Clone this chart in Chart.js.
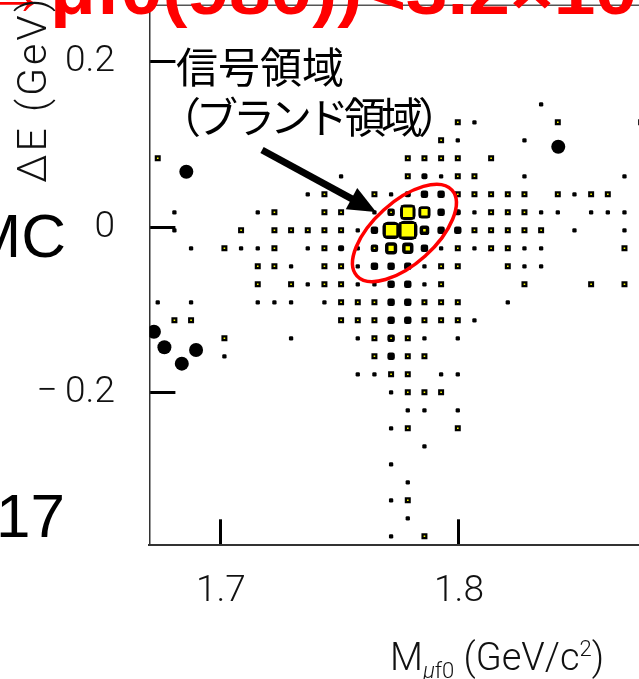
<!DOCTYPE html>
<html>
<head>
<meta charset="utf-8">
<script src="https://cdn.jsdelivr.net/npm/chart.js@4.4.0/dist/chart.umd.min.js"></script>
<style>
  html, body { margin: 0; padding: 0; background: #fff; overflow: hidden; }
  #wrap { position: relative; width: 639px; height: 679px; overflow: hidden; }
  #wrap canvas, #titleSvg { position: absolute; left: 0; top: 0; }
  .txt { position: absolute; white-space: nowrap; line-height: 1; }
  .side { font: 62px 'Liberation Sans', sans-serif; color: #000; text-align: right; width: 300px; }
  #mc { left: -234px; top: 200px; }
  #n17 { left: -235px; top: 480px; }
  .jp { font-family: 'Noto Sans CJK JP', sans-serif; color: #000; }
  #sig1 { left: 176px; top: 44px; font-size: 42px; }
  #sig2 { left: 159px; top: 94px; font-size: 42px; letter-spacing: -5px; }
  .axt { font-family: 'Roboto', sans-serif; font-weight: 300; color: #111; }
  #ytitle { left: 12px; top: 183px; font-size: 41px; letter-spacing: 3px; transform-origin: 0 0; transform: rotate(-90deg); }
  #xtitle { left: 390px; top: 638px; font-size: 38px; }
  #xtitle .sub { font-size: 22px; vertical-align: -8px; }
  #xtitle sup { font-size: 22px; vertical-align: 14px; }
</style>
</head>
<body>
<div id="wrap">
  <canvas id="boxChart" width="639" height="679"></canvas>
  <svg id="titleSvg" width="639" height="40">
    <g font-family="Liberation Sans, sans-serif" font-weight="bold" font-size="66" fill="#f00">
      <text x="48" y="14" text-anchor="end">Br(τ→</text>
      <text x="50" y="14" textLength="587" lengthAdjust="spacingAndGlyphs">μf0(980))&lt;3.2×10</text>
    </g>
  </svg>
  <div class="txt side" id="mc">MC</div>
  <div class="txt side" id="n17">17</div>
  <div class="txt jp" id="sig1">信号領域</div>
  <div class="txt jp" id="sig2">（ブランド領域）</div>
  <div class="txt axt" id="ytitle">ΔE (GeV)</div>
  <div class="txt axt" id="xtitle">M<span class="sub"><i>μ</i>f0</span> (GeV/c<sup>2</sup>)</div>
</div>
<script>
// binning of the box plot
const massRange = [1.67, 1.88];
const deltaERange = [-0.384, 0.268];
const nBinsMass = 30;
const nBinsDeltaE = 30;
const massAxisMax = 1.8756;
const massTicks = [1.7, 1.8];
const deltaETicks = [0.2, 0, -0.2];

// bin contents, top ΔE row first, one base-36 digit per mass bin ('.' = empty)
const bkgRows = [
  '..............................',
  '..............................',
  '..............................',
  '..............................',
  '..............................',
  '.......................1......',
  '...................1..........',
  '..................1...1.......',
  '..............................',
  '...........1....21....1.....1.',
  '.........1....1233.......1....',
  '.1....1......13d8321...11.111.',
  '.1..........13gk533......1..1.',
  '..1..11..1.2138731.1..11......',
  '........1...13331.....11......',
  '.........1..11331.............',
  '1.1...111.1...33.....1........',
  '..............33...1..........',
  '........1...1.3.1.1...........',
  '....1.........3...............',
  '............11...11...........',
  '..............1...............',
  '...............11.1...........',
  '..............1...............',
  '................1.............',
  '..............1...............',
  '...............1..............',
  '..............1...............',
  '...............1..............',
  '..............1...............'
];
const sigRows = [
  '..............................',
  '..............................',
  '..............................',
  '..............................',
  '..............................',
  '..............................',
  '..................1.....1....1',
  '.................1............',
  '1..............1111.1.........',
  '...............1..11..........',
  '..........1..1....11111.1.11..',
  '.......1..11..1la...111.......',
  '.....1.11111..pz2..11111......',
  '....1..1..1..175..1.11......1.',
  '......11..11.....11..1........',
  '......1.1.11.....1....1...1.1.',
  '...........111..111...........',
  '.11........111..111...........',
  '....1........111..............',
  '.............1.11.............',
  '..............11..............',
  '...............111............',
  '..............................',
  '...............1..1...........',
  '..............................',
  '..............................',
  '..............................',
  '...............1..............',
  '..............................',
  '................1.............'
];

// candidate events
const eventMass = [1.6855, 1.8417, 1.6719, 1.6763, 1.6836, 1.6896];
const eventDeltaE = [0.0671, 0.0973, -0.1261, -0.1449, -0.1647, -0.1482];

// signal region ellipse centre and the arrow pointing at it
const signalCentre = [1.7771, -0.0069];
const arrowFrom = [1.7173, 0.0933];
const arrowTo = [1.7652, 0.0184];

function binPoints(rows) {
  const bw = (massRange[1] - massRange[0]) / nBinsMass;
  const bh = (deltaERange[1] - deltaERange[0]) / nBinsDeltaE;
  const pts = [];
  rows.forEach((row, r) => {
    [...row].forEach((ch, c) => {
      if (ch === '.') return;
      pts.push({
        x: massRange[0] + (c + 0.5) * bw,
        y: deltaERange[1] - (r + 0.5) * bh,
        n: parseInt(ch, 36)
      });
    });
  });
  return pts;
}

const events = eventMass.map((m, i) => ({ x: m, y: eventDeltaE[i] }));

const tickFont = { family: 'Roboto', size: 37, weight: '300' };
const fmt = v => (v < 0 ? '\u2212\u2009' + Math.abs(v) : String(v));
const sigBorder = 2.2;

function noPadding(s) {
  s.paddingTop = 0;
  s.paddingBottom = 0;
  s.paddingLeft = 0;
  s.paddingRight = 0;
}

// top edge of the frame
const frameTop = {
  id: 'frameTop',
  afterDraw(chart) {
    const { ctx, chartArea: a } = chart;
    ctx.save();
    ctx.strokeStyle = '#555';
    ctx.lineWidth = 1.5;
    ctx.beginPath();
    ctx.moveTo(a.left, a.top);
    ctx.lineTo(a.right, a.top);
    ctx.stroke();
    ctx.restore();
  }
};

// red ellipse round the signal box and the black arrow
const signalMarks = {
  id: 'signalMarks',
  afterDatasetsDraw(chart) {
    const { ctx, scales: { x, y } } = chart;
    ctx.save();
    ctx.strokeStyle = '#ff0000';
    ctx.lineWidth = 3.5;
    ctx.beginPath();
    ctx.ellipse(x.getPixelForValue(signalCentre[0]), y.getPixelForValue(signalCentre[1]),
      64, 31, -42 * Math.PI / 180, 0, 2 * Math.PI);
    ctx.stroke();

    const x0 = x.getPixelForValue(arrowFrom[0]), y0 = y.getPixelForValue(arrowFrom[1]);
    const x1 = x.getPixelForValue(arrowTo[0]), y1 = y.getPixelForValue(arrowTo[1]);
    const ang = Math.atan2(y1 - y0, x1 - x0);
    const headLen = 28, headHalf = 12;
    const bx = x1 - headLen * Math.cos(ang), by = y1 - headLen * Math.sin(ang);
    ctx.strokeStyle = '#000';
    ctx.fillStyle = '#000';
    ctx.lineWidth = 7;
    ctx.beginPath();
    ctx.moveTo(x0, y0);
    ctx.lineTo(bx + 2 * Math.cos(ang), by + 2 * Math.sin(ang));
    ctx.stroke();
    ctx.beginPath();
    ctx.moveTo(x1, y1);
    ctx.lineTo(bx + headHalf * Math.sin(ang), by - headHalf * Math.cos(ang));
    ctx.lineTo(bx - headHalf * Math.sin(ang), by + headHalf * Math.cos(ang));
    ctx.closePath();
    ctx.fill();
    ctx.restore();
  }
};

const ctx = document.getElementById('boxChart').getContext('2d');
const boxChart = new Chart(ctx, {
  type: 'scatter',
  data: {
    datasets: [
      {
        label: 'data',
        data: events,
        pointStyle: 'circle',
        pointRadius: 7,
        backgroundColor: '#000',
        borderWidth: 0
      },
      {
        label: 'signal MC',
        data: binPoints(sigRows),
        pointStyle: 'rect',
        pointRadius: c => (2.2 * Math.sqrt(c.raw.n) - 0.6 + sigBorder) / Math.SQRT2,
        backgroundColor: '#ffff00',
        borderColor: '#000',
        borderWidth: sigBorder
      },
      {
        label: 'background MC',
        data: binPoints(bkgRows),
        pointStyle: 'rectRounded',
        pointRadius: c => 4.3 * Math.sqrt(c.raw.n) / 1.716,
        backgroundColor: '#000',
        borderWidth: 0
      }
    ]
  },
  options: {
    responsive: false,
    animation: false,
    events: [],
    layout: { autoPadding: false, padding: { top: 5.3, right: 0, bottom: 0, left: 0 } },
    plugins: { legend: { display: false }, tooltip: { enabled: false } },
    scales: {
      x: {
        type: 'linear',
        min: massRange[0],
        max: massAxisMax,
        afterBuildTicks: s => { s.ticks = massTicks.map(v => ({ value: v })); },
        afterFit: s => { s.height = 133.7; noPadding(s); },
        grid: { drawOnChartArea: false, tickLength: -26, tickWidth: 3, tickColor: '#000' },
        border: { color: '#333', width: 2 },
        ticks: { padding: 50, font: tickFont, color: '#111', autoSkip: false, maxRotation: 0, callback: fmt }
      },
      y: {
        type: 'linear',
        min: deltaERange[0],
        max: deltaERange[1],
        afterBuildTicks: s => { s.ticks = deltaETicks.map(v => ({ value: v })); },
        afterFit: s => { s.width = 149.4; noPadding(s); },
        grid: { drawOnChartArea: false, tickLength: -26, tickWidth: 3, tickColor: '#000' },
        border: { color: '#333', width: 1.5 },
        ticks: { padding: 60.4, font: tickFont, color: '#111', autoSkip: false, callback: fmt }
      }
    }
  },
  plugins: [frameTop, signalMarks]
});
</script>
</body>
</html>
